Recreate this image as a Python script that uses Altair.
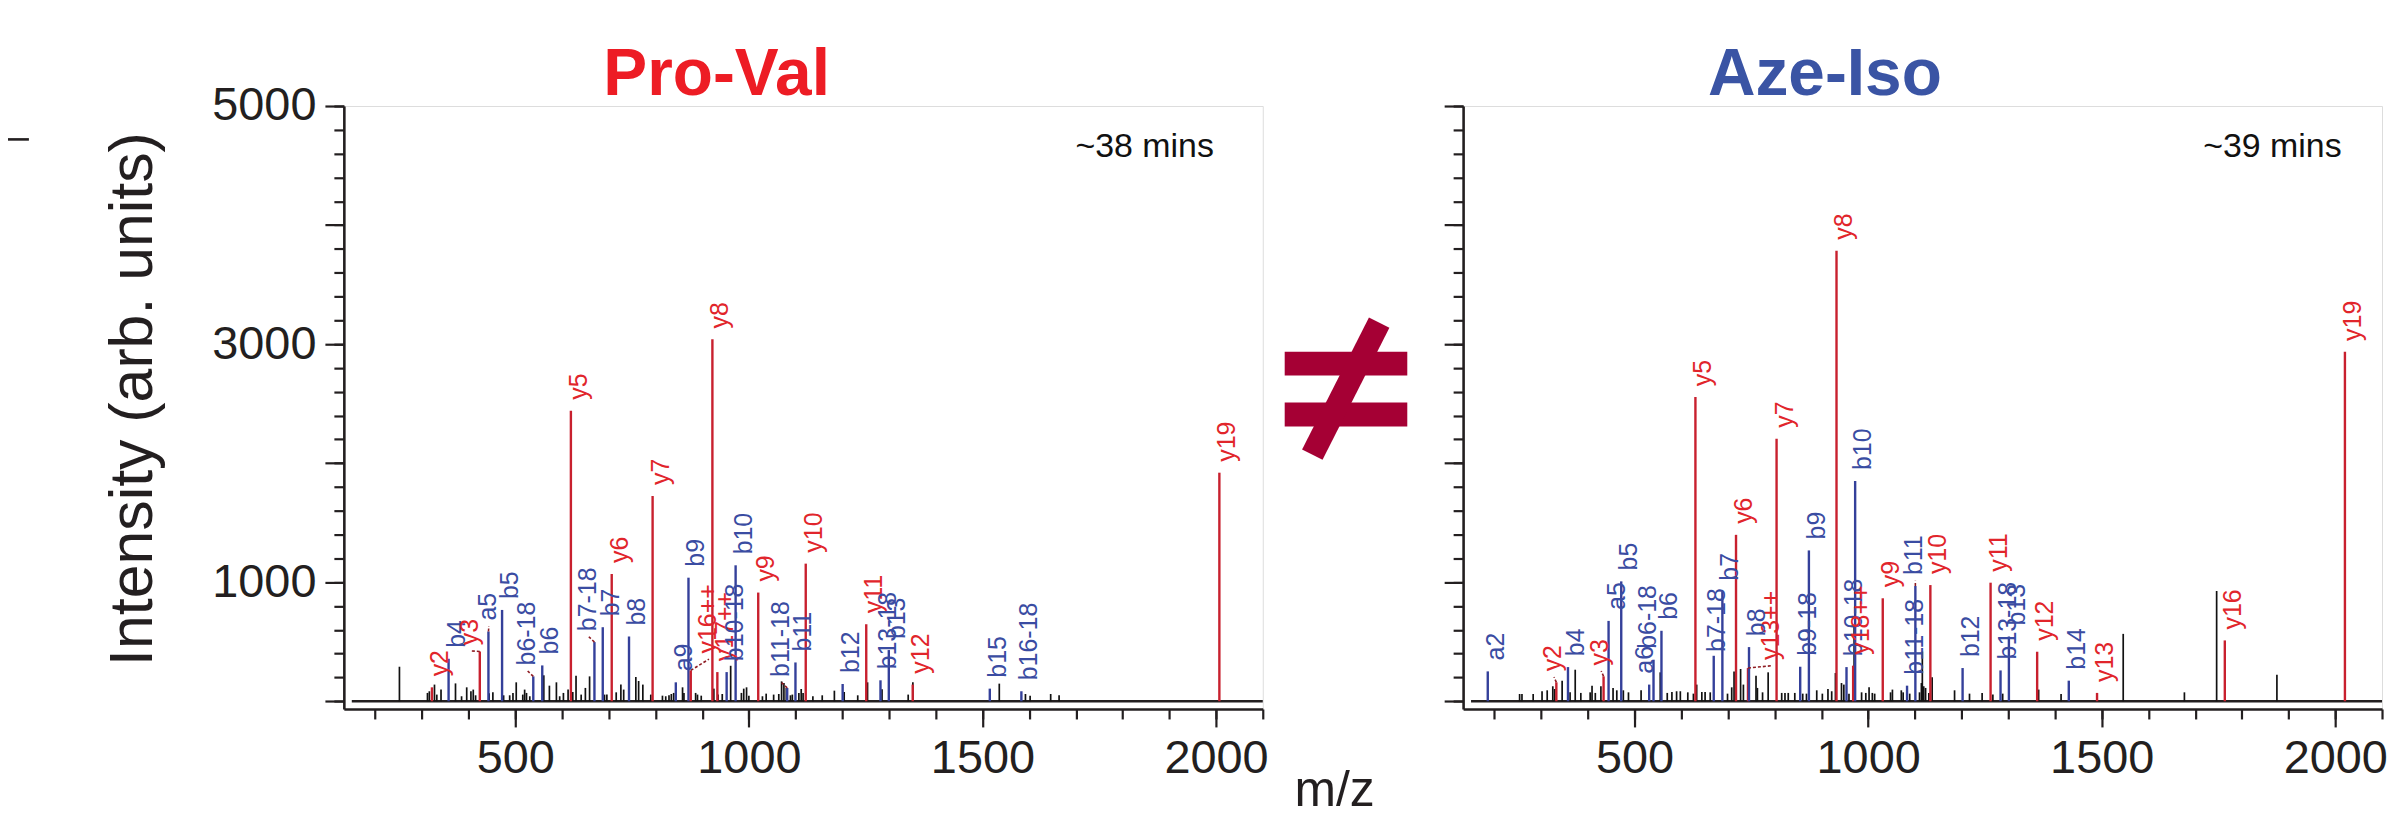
import altair as alt
import pandas as pd

# ---------------- data ----------------
# Pro-Val (~38 mins): annotated fragment ions
pv_ion = ["y2", "b4", "y3", "a5", "b5", "b6-18", "b6", "y5", "b7-18", "b7", "y6", "b8", "y7",
          "a9", "b9", "y16++", "y8", "y17++", "b10-18", "b10", "y9", "b11-18", "b11", "y10",
          "b12", "y11", "b13-18", "b13", "y12", "b15", "b16-18", "y19"]
pv_mz = [321.6, 357.2, 424.0, 442.5, 471.7, 538.5, 557.7, 619.0, 669.4, 687.2, 706.4, 743.4, 793.9,
         843.6, 870.7, 875.6, 921.9, 932.5, 952.4, 971.6, 1020.0, 1082.0, 1099.7, 1121.7,
         1200.7, 1251.2, 1281.7, 1299.5, 1350.7, 1515.7, 1583.3, 2007.1]
pv_int = [117, 357, 418, 586, 767, 209, 301, 2440, 497, 622, 1069, 544, 1724,
          159, 1038, 259, 3040, 245, 245, 1142, 913, 112, 326, 1156,
          145, 647, 176, 430, 140, 106, 84, 1920]
# Pro-Val: unassigned peaks
pv_other_mz = [252, 312, 316, 327, 332, 341, 372, 385, 396, 405, 410, 415, 444, 452, 475, 488, 495,
               502, 516, 520, 524, 531, 561, 573, 588, 595, 603, 613, 623, 630, 641, 650, 659, 691,
               696, 716, 726, 732, 758, 764, 773, 790, 815, 822, 829, 834, 839, 858, 861, 886, 890,
               898, 925, 934, 943, 961, 984, 989, 995, 1000, 1029, 1037, 1053, 1064, 1070, 1075,
               1080, 1089, 1093, 1107, 1112, 1116, 1137, 1157, 1183, 1204, 1233, 1254, 1285, 1341,
               1351, 1536, 1592, 1602, 1646, 1664]
pv_other_int = [290, 70, 84, 140, 56, 98, 150, 42, 117, 84, 98, 50, 67, 75, 50, 50, 70,
                159, 56, 98, 70, 42, 218, 131, 159, 42, 70, 98, 78, 215, 56, 112, 209, 56,
                56, 75, 140, 98, 204, 170, 140, 56, 47, 42, 50, 61, 70, 117, 70, 70, 56,
                47, 106, 56, 61, 298, 70, 106, 117, 47, 42, 64, 56, 61, 167, 153,
                112, 50, 56, 70, 103, 70, 42, 50, 89, 78, 50, 159, 100, 56,
                159, 148, 61, 47, 61, 50]

# Aze-Iso (~39 mins): annotated fragment ions
ai_ion = ["a2", "y2", "b4", "y3", "a5", "b5", "a6", "b6-18", "b6", "y5", "b7-18", "b7", "y6",
          "y13++", "b8", "y7", "b9-18", "b9", "y8", "b10-18", "y18++", "b10", "y9", "b11-18",
          "b11", "y10", "b12", "y11", "b13-18", "b13", "y12", "b14", "y13", "y16", "y19"]
ai_mz = [185.8, 332.6, 357.5, 433.7, 444.4, 471.5, 531.3, 540.6, 557.6, 630.3, 669.5, 688.0, 717.2,
         742.8, 745.0, 804.0, 854.6, 873.2, 932.3, 953.7, 967.9, 972.2, 1031.3, 1083.3,
         1101.1, 1133.2, 1202.2, 1262.1, 1283.4, 1301.3, 1361.8, 1429.5, 1490.0, 1763.5, 2020.6]
ai_int = [251, 159, 287, 209, 675, 1007, 140, 349, 592, 2555, 382, 921, 1398,
          279, 455, 2205, 290, 1267, 3785, 287, 299, 1850, 865, 131,
          968, 976, 279, 996, 259, 544, 416, 173, 70, 511, 2935]
# Aze-Iso: unassigned peaks
ai_other_mz = [254, 259, 283, 302, 313, 325, 329, 345, 362, 373, 385, 405, 409, 416, 428, 454, 462,
               476, 487, 514, 555, 570, 580, 590, 598, 614, 626, 633, 644, 651, 662, 699, 708, 713,
               727, 733, 760, 763, 774, 786, 815, 822, 829, 843, 860, 868, 890, 902, 914, 922, 930,
               943, 948, 959, 970, 986, 995, 1002, 1009, 1014, 1048, 1052, 1071, 1075, 1089, 1110,
               1114, 1116, 1119, 1123, 1130, 1137, 1185, 1217, 1244, 1267, 1288, 1365, 1413, 1546,
               1677, 1746, 1875]
ai_other_int = [61, 61, 61, 84, 92, 126, 103, 173, 75, 265, 70, 75, 131, 70, 126, 112, 92,
                92, 75, 92, 243, 70, 78, 84, 84, 75, 64, 140, 78, 78, 75, 64, 117, 251,
                271, 140, 215, 112, 75, 243, 70, 70, 70, 70, 64, 64, 92, 64, 103, 84, 237,
                153, 140, 64, 628, 75, 70, 117, 70, 64, 75, 98, 92, 75, 64, 75,
                153, 418, 126, 112, 70, 201, 92, 64, 70, 56, 64, 98, 61, 566,
                75, 926, 223]

# label nudges (m/z shift, intensity shift) for labels drawn away from their peak
pv_nudge = {"y3": (-38, -40), "a5": (-18, 0), "b6-18": (-31, 0), "b7-18": (-31, 0),
            "y16++": (20, 50), "b11-18": (-31, 0)}
ai_nudge = {"y2": (-24, 0), "y3": (-24, 0), "a6": (-26, 0), "b6-18": (-28, 0),
            "b7-18": (-11, -60), "y13++": (33, -25), "b11": (-19, 0)}
pv_leaders = ["y3", "a5", "b6-18", "b7-18", "y16++", "b11-18"]
ai_leaders = ["y2", "y3", "y13++", "b11"]

x_ticks_minor = list(range(200, 2101, 100))
x_ticks_major = [500, 1000, 1500, 2000]
y_ticks_minor = list(range(0, 5001, 200))
y_ticks_major = [0, 1000, 2000, 3000, 4000, 5000]
y_labels = [1000, 3000, 5000]

X_DOMAIN = [133, 2100]
Y_DOMAIN = [-65, 5000]
W, H = 922, 605

INK = "#231F20"
LINE_COLORS = {"y": "#C8202E", "b": "#34409A"}
TEXT_COLORS = {"y": "#E1252B", "b": "#3A4CA2"}
LABEL_FONT = "Liberation Sans"
CRIMSON = "#A50034"


def panel(ion, mz, inten, omz, oint, nudge, leaders, show_ylabels, title, title_color,
          title_x, time_text, time_x, extras):
    ann = pd.DataFrame({"ion": ion, "mz": mz, "int": inten})
    ann["kind"] = ["y" if s.startswith("y") else "b" for s in ann["ion"]]
    ann["lc"] = ann["kind"].map(LINE_COLORS)
    ann["tc"] = ann["kind"].map(TEXT_COLORS)
    ann["lmz"] = [m + nudge.get(s, (0, 0))[0] for s, m in zip(ann["ion"], ann["mz"])]
    ann["lint"] = [v + nudge.get(s, (0, 0))[1] for s, v in zip(ann["ion"], ann["int"])]
    ann["zero"] = 0
    oth = pd.DataFrame({"mz": omz, "int": oint, "zero": 0})
    lead = ann[ann["ion"].isin(leaders)].copy()
    lead["emz"] = lead["lmz"] + 19
    lead["eint"] = lead["lint"] + 45

    xs = alt.Scale(domain=X_DOMAIN, nice=False, zero=False)
    ys = alt.Scale(domain=Y_DOMAIN, nice=False, zero=False)

    x_minor = alt.Axis(orient="bottom", values=x_ticks_minor, tickSize=10, tickWidth=2.2,
                       tickColor=INK, labels=False, domain=True, domainWidth=2.6,
                       domainColor=INK, grid=False, title=None)
    x_major = alt.Axis(orient="bottom", values=x_ticks_major, tickSize=18, tickWidth=2.2,
                       tickColor=INK, labels=True, labelFontSize=47, labelFont=LABEL_FONT,
                       labelColor=INK, labelPadding=9, domain=False, grid=False, title=None,
                       format="d", labelFlush=False, labelOverlap=False)
    y_minor = alt.Axis(orient="left", values=y_ticks_minor, tickSize=10, tickWidth=2.2,
                       tickColor=INK, labels=False, domain=True, domainWidth=2.6,
                       domainColor=INK, grid=False, title=None)
    y_major = alt.Axis(orient="left", values=y_ticks_major, tickSize=19, tickWidth=2.2,
                       tickColor=INK, labels=show_ylabels, labelFontSize=47,
                       labelFont=LABEL_FONT, labelColor=INK, labelPadding=9, domain=False,
                       grid=False, title=None, format="d", labelOverlap=False,
                       labelExpr=f"indexof({y_labels}, datum.value) >= 0 ? datum.label : ''")

    baseline = alt.Chart(pd.DataFrame({"a": [150], "b": [2100], "z": [0]})).mark_rule(
        color=INK, strokeWidth=2.6).encode(
        x=alt.X("a:Q", scale=xs, axis=None), x2="b:Q", y=alt.Y("z:Q", scale=ys, axis=None))

    black = alt.Chart(oth).mark_rule(color="#111111", strokeWidth=1.7).encode(
        x=alt.X("mz:Q", scale=xs, axis=x_minor),
        y=alt.Y("int:Q", scale=ys, axis=y_minor),
        y2="zero:Q")

    colored = alt.Chart(ann).mark_rule(strokeWidth=2.4).encode(
        x=alt.X("mz:Q", scale=xs, axis=x_major),
        y=alt.Y("int:Q", scale=ys, axis=y_major),
        y2="zero:Q",
        color=alt.Color("lc:N", scale=None))

    leader = alt.Chart(lead).mark_rule(color="#8E1B22", strokeWidth=1.6, strokeDash=[3, 2]).encode(
        x=alt.X("mz:Q", scale=xs, axis=None), y=alt.Y("int:Q", scale=ys, axis=None),
        x2="emz:Q", y2="eint:Q")

    labels = alt.Chart(ann).mark_text(angle=270, align="left", baseline="top", dx=11, dy=-4,
                                      fontSize=25, font=LABEL_FONT).encode(
        x=alt.X("lmz:Q", scale=xs, axis=None),
        y=alt.Y("lint:Q", scale=ys, axis=None),
        text="ion:N",
        color=alt.Color("tc:N", scale=None))

    ttl = alt.Chart(pd.DataFrame({"t": [title]})).mark_text(
        font=LABEL_FONT, fontWeight="bold", fontSize=66, color=title_color, align="center",
        baseline="alphabetic").encode(x=alt.value(title_x), y=alt.value(-11.5), text="t:N")

    tm = alt.Chart(pd.DataFrame({"t": [time_text]})).mark_text(
        font=LABEL_FONT, fontSize=34, color="#111111", align="center",
        baseline="alphabetic").encode(x=alt.value(time_x), y=alt.value(51.5), text="t:N")

    layers = [baseline, black, colored, leader, labels, ttl, tm] + extras
    return alt.layer(*layers).resolve_axis(x="independent", y="independent").properties(
        width=W, height=H)


def hrule(x1, x2, y, color, width):
    """A horizontal decoration in the pixel space of a panel."""
    return alt.Chart(pd.DataFrame({"k": [0]})).mark_rule(
        color=color, strokeWidth=width, strokeCap="butt").encode(
        x=alt.value(x1), x2=alt.value(x2), y=alt.value(y))


def srule(x1, y1, x2, y2, color, width):
    """A slanted decoration in the pixel space of a panel."""
    return alt.Chart(pd.DataFrame({"k": [0]})).mark_rule(
        color=color, strokeWidth=width, strokeCap="butt").encode(
        x=alt.value(x1), y=alt.value(y1), x2=alt.value(x2), y2=alt.value(y2))


# decorations placed in pixel space of the left panel (origin = its plot area)
anchor = hrule(-344, -343.8, -103.5, "white", 0.2)
dash = alt.Chart(pd.DataFrame({"k": [0]})).mark_rect(color=INK).encode(
    x=alt.value(-337), x2=alt.value(-316), y=alt.value(32.2), y2=alt.value(34.8))
ytitle = alt.Chart(pd.DataFrame({"t": ["Intensity (arb. units)"]})).mark_text(
    angle=270, align="center", baseline="middle", fontSize=61, font=LABEL_FONT,
    color=INK).encode(x=alt.value(-210), y=alt.value(294), text="t:N")
xtitle = alt.Chart(pd.DataFrame({"t": ["m/z"]})).mark_text(
    align="center", baseline="alphabetic", fontSize=50, font=LABEL_FONT,
    color=INK).encode(x=alt.value(994), y=alt.value(702), text="t:N")
neq_top = hrule(944, 1067, 258.5, CRIMSON, 24)
neq_bottom = hrule(944, 1067, 309.5, CRIMSON, 24)
neq_slash = srule(1038.8, 217.3, 971.7, 349.8, CRIMSON, 23)

left = panel(pv_ion, pv_mz, pv_int, pv_other_mz, pv_other_int, pv_nudge, pv_leaders, True,
             "Pro-Val", "#ED1C24", 374, "~38 mins", 803.5,
             [anchor, dash, ytitle, xtitle, neq_top, neq_bottom, neq_slash])
right = panel(ai_ion, ai_mz, ai_int, ai_other_mz, ai_other_int, ai_nudge, ai_leaders, False,
              "Aze-Iso", "#3A54A4", 363, "~39 mins", 812, [])

chart = alt.HConcatChart(hconcat=[left, right], spacing=201, bounds="flush").properties(
    padding={"left": 0, "top": 0, "right": 0, "bottom": 0}
).configure_view(stroke=None).configure(background="white")

chart.save("out.html", embed_options={"renderer": "svg", "actions": False})
